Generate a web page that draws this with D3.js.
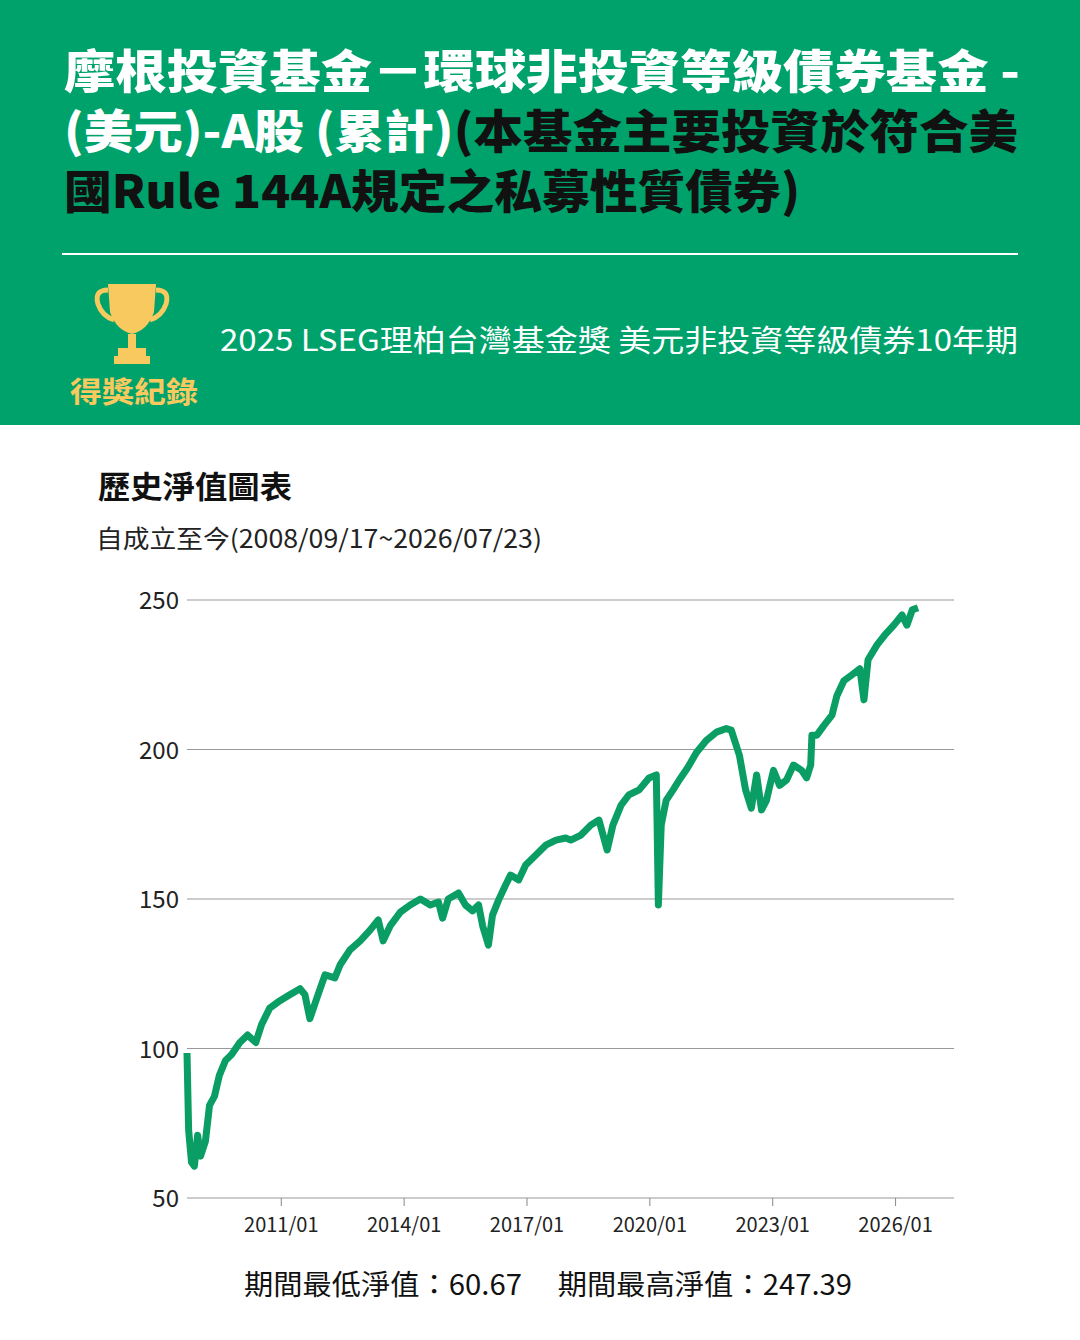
<!DOCTYPE html>
<html><head><meta charset="utf-8">
<script src="https://cdn.jsdelivr.net/npm/d3@7"></script>
<style>
body{margin:0;background:#fff;font-family:"Noto Sans CJK TC","Noto Sans",sans-serif;}
</style></head>
<body><svg width="1080" height="1340"></svg>
<script>
const titleLines = ["摩根投資基金－環球非投資等級債券基金 -", "(美元)-A股 (累計)(本基金主要投資於符合美", "國Rule 144A規定之私募性質債券)"];
const awardText = "2025 LSEG理柏台灣基金獎 美元非投資等級債券10年期";
const years = [2008.71,2008.75,2008.82,2008.89,2008.97,2009.04,2009.16,2009.26,2009.38,2009.50,2009.65,2009.80,2010.00,2010.19,2010.39,2010.53,2010.73,2010.98,2011.22,2011.47,2011.59,2011.71,2011.91,2012.08,2012.32,2012.45,2012.69,2012.94,2013.18,2013.38,2013.50,2013.67,2013.92,2014.16,2014.41,2014.65,2014.85,2014.95,2015.09,2015.34,2015.51,2015.68,2015.83,2015.93,2016.07,2016.17,2016.32,2016.49,2016.61,2016.81,2016.98,2017.23,2017.47,2017.72,2017.96,2018.08,2018.33,2018.57,2018.77,2018.97,2019.11,2019.31,2019.50,2019.75,2019.99,2020.17,2020.22,2020.29,2020.41,2020.58,2020.73,2020.93,2021.15,2021.39,2021.64,2021.88,2022.00,2022.20,2022.35,2022.49,2022.62,2022.74,2022.86,2023.03,2023.18,2023.35,2023.52,2023.72,2023.84,2023.94,2023.97,2024.09,2024.26,2024.46,2024.58,2024.75,2024.95,2025.14,2025.24,2025.34,2025.56,2025.75,2025.97,2026.17,2026.29,2026.42,2026.56];
const navs = [98.5,72.7,62,60.67,71,64,69,81,84,91,96,98,102,104.5,102,108,113.5,116,118,120,118,110,118,124.6,123.6,128,133,136,139.6,143,136,141,145.6,148,150,148,149,143.6,150,152,148,146,148,141,134.6,144.6,149.7,154.7,158,156.4,161.4,164.7,168,169.7,170.4,169.7,171.4,174.7,176.4,166.4,174.7,181.4,184.8,186.5,190.5,191.5,148,174.7,183,186.5,189.8,193.8,199,203,205.8,207,206.5,198,186.5,180.4,191.5,179.8,183,193,188,189.8,194.8,193,190.5,194.8,204.8,204.8,208,211.5,218,223,225,227,216.6,230,235,238.3,241.6,245,241.6,246.7,247.39];
const yTicks = [50,100,150,200,250];
const xTicks = [2011,2014,2017,2020,2023,2026];

const svg = d3.select("svg");
const green = "#00a26b";

svg.append("rect").attr("width",1080).attr("height",425).attr("fill",green);
const tl = [956, 954, 736];
const titles = svg.selectAll("text.title").data(titleLines).enter().append("text").attr("class","title")
  .attr("x",64).attr("y",(d,i)=>88+i*60).attr("fill","#fff")
  .attr("font-size",46).attr("font-weight",900)
  .attr("textLength",(d,i)=>tl[i]).attr("lengthAdjust","spacingAndGlyphs");
titles.each(function(d,i){
  const t=d3.select(this);
  if(i==0) t.text(d);
  else if(i==1){ t.append("tspan").text("(美元)-A股 (累計)"); t.append("tspan").attr("fill","#111").text("(本基金主要投資於符合美"); }
  else t.attr("fill","#111").text(d);
});
svg.append("line").attr("x1",62).attr("x2",1018).attr("y1",254).attr("y2",254).attr("stroke","#fff").attr("stroke-width",2);

// trophy
const tr = svg.append("g").attr("fill","#f7c95e");
tr.append("path").attr("d","M108,284 L156,284 L154,312 Q148,330 132,334 Q116,330 110,312 Z");
tr.append("path").attr("d","M108,290 Q94,290 98,304 Q102,316 114,320").attr("fill","none").attr("stroke","#f7c95e").attr("stroke-width",5);
tr.append("path").attr("d","M156,290 Q170,290 166,304 Q162,316 150,320").attr("fill","none").attr("stroke","#f7c95e").attr("stroke-width",5);
tr.append("rect").attr("x",128).attr("y",334).attr("width",8).attr("height",14);
tr.append("rect").attr("x",118).attr("y",348).attr("width",28).attr("height",8);
tr.append("rect").attr("x",114).attr("y",356).attr("width",36).attr("height",8);
svg.append("text").attr("x",70).attr("y",403).attr("fill","#f7c95e")
  .attr("font-size",29).attr("font-weight",700).attr("textLength",128).attr("lengthAdjust","spacingAndGlyphs").text("得獎紀錄");
svg.append("text").attr("x",220).attr("y",351).attr("fill","#fff")
  .attr("font-size",30).attr("textLength",798).attr("lengthAdjust","spacingAndGlyphs").text(awardText);

svg.append("text").attr("x",98).attr("y",498).attr("font-size",31).attr("font-weight",700).attr("fill","#111")
  .attr("textLength",194).attr("lengthAdjust","spacingAndGlyphs").text("歷史淨值圖表");
svg.append("text").attr("x",96).attr("y",548).attr("font-size",25).attr("fill","#222")
  .attr("textLength",446).attr("lengthAdjust","spacingAndGlyphs").text("自成立至今(2008/09/17~2026/07/23)");

const x = d3.scaleLinear().domain([2008.71,2026.56]).range([187,918]);
const y = d3.scaleLinear().domain([50,250]).range([1198,600]);

svg.append("g").selectAll("line").data(yTicks).enter().append("line")
  .attr("x1",187).attr("x2",954).attr("y1",d=>y(d)).attr("y2",d=>y(d))
  .attr("stroke","#999").attr("stroke-width",1);
svg.append("g").selectAll("text").data(yTicks).enter().append("text")
  .attr("x",179).attr("y",d=>y(d)+9).attr("text-anchor","end").attr("font-size",24).attr("fill","#222").text(d=>d);

const xa = svg.append("g").attr("transform","translate(0,1198)")
  .call(d3.axisBottom(x).tickValues(xTicks).tickSize(8).tickFormat(d=>d+"/01"));
xa.select(".domain").remove();
xa.selectAll("line").attr("stroke","#888");
xa.selectAll("text").attr("font-size",20).attr("fill","#222").attr("dy","1.15em").attr("font-family","Noto Sans CJK TC");

svg.append("path").datum(d3.zip(years,navs))
  .attr("d",d3.line().x(d=>x(d[0])).y(d=>y(d[1])))
  .attr("fill","none").attr("stroke","#0a9e64").attr("stroke-width",7).attr("stroke-linejoin","round");

svg.append("text").attr("x",244).attr("y",1295).attr("font-size",28).attr("fill","#111")
  .attr("textLength",608).attr("lengthAdjust","spacingAndGlyphs")
  .text("期間最低淨值：60.67　 期間最高淨值：247.39");
</script></body></html>
